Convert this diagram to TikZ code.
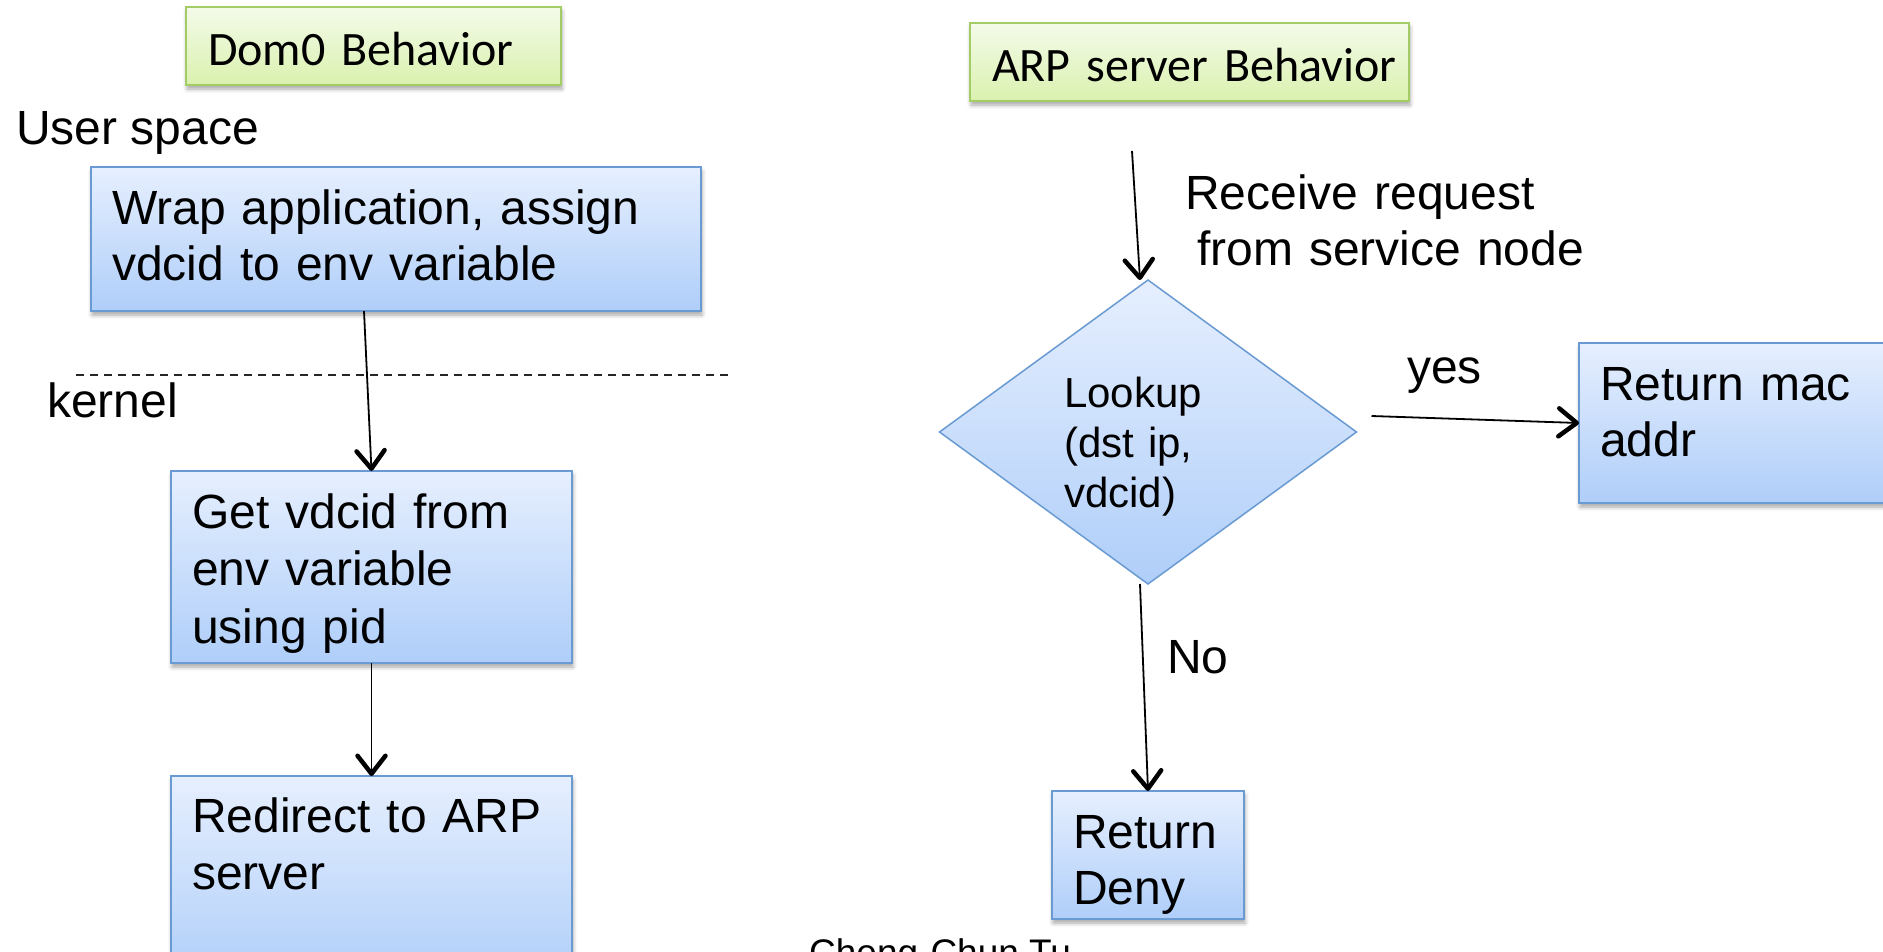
\documentclass[tikz,border=0pt]{standalone}
\usepackage{fontspec}
\setmainfont{Liberation Sans}
\newfontfamily\titlefont{Carlito}
\usetikzlibrary{shapes.geometric,arrows.meta,shadows.blur}

\definecolor{boxtop}{HTML}{E6EFFE}
\definecolor{boxbot}{HTML}{AFCEF9}
\definecolor{boxline}{HTML}{6A9AD2}
\definecolor{titletop}{HTML}{F4FBEA}
\definecolor{titlebot}{HTML}{DAF1AE}
\definecolor{titleline}{HTML}{A3CC66}

\newcommand\bigtext{\fontsize{48}{56}\selectfont}
\newcommand\looptext{\fontsize{48}{57.5}\selectfont}
\newcommand\midtext{\fontsize{42}{50}\selectfont}
\newcommand\titletext{\titlefont\bigtext\spaceskip=7pt\relax}

\tikzset{
  softshadow/.style={blur shadow={shadow xshift=1pt, shadow yshift=-4pt,
      shadow blur radius=4pt, shadow opacity=35}},
  procbox/.style={draw=boxline, line width=1.5pt, top color=boxtop,
      bottom color=boxbot, softshadow, anchor=north west,
      inner xsep=21pt, inner ysep=0pt, outer sep=0pt, align=left,
      font=\bigtext},
  titlebox/.style={draw=titleline, line width=1.5pt, top color=titletop,
      bottom color=titlebot, softshadow, anchor=north west,
      inner xsep=22pt, inner ysep=0pt, outer sep=0pt, align=left,
      font=\titletext},
  decision/.style={diamond, draw=boxline, line width=1.5pt,
      top color=boxtop, bottom color=boxbot, minimum width=417pt,
      minimum height=304pt, inner sep=0pt, outer sep=0pt},
  plain/.style={font=\bigtext, inner sep=0pt, anchor=base west},
  flow/.style={line width=1.8pt, black,
      -{Straight Barb[length=18pt,width=28pt,line width=4.5pt,round]}},
  divider/.style={line width=1.3pt, black!85, dash pattern=on 8pt off 6pt}
}

\begin{document}
\begin{tikzpicture}[x=1pt, y=-1pt]
\useasboundingbox (0,0) rectangle (1883,951);

% ---- Dom0 side ----
\node[titlebox, text width=331pt, text height=58pt, text depth=20pt]
  (domtitle) at (186,7) {\mbox{Dom0 Behavior}};
\node[plain] (userspace) at (16,144) {User space};
\node[procbox, text width=568pt, text height=57pt, text depth=87pt]
  (wrap) at (91,167) {Wrap application, assign\\vdcid to env variable};
\coordinate (dashL) at (76,375);
\coordinate (dashR) at (728,375);
\draw[divider] (dashL) -- (dashR);
\node[plain] (kernel) at (47,417) {kernel};
\node[procbox, font=\looptext, text width=359pt, text height=57pt,
  text depth=135pt]
  (get) at (171,471) {Get vdcid from\\env variable\\using pid};
\node[procbox, font=\looptext, text width=359pt, text height=56pt,
  text depth=150pt]
  (redirect) at (171,776) {Redirect to ARP\\server};

\draw[flow] ([xshift=-32pt]wrap.south) -- (get.north);
\draw[flow] (get.south) -- (redirect.north);

% ---- ARP server side ----
\node[titlebox, text width=395pt, text height=58pt, text depth=20pt]
  (arptitle) at (970,23) {\mbox{ARP server Behavior}};
\coordinate (reqin) at (1132,151);
\node[plain, text width=450pt, align=left] (receive) at (1185,209)
  {Receive request\\\hspace*{12pt}from service node};
\node[decision] (lookup) at (1148,432) {};
\node[plain, font=\midtext, text width=200pt, align=left] (lookuptext)
  at (1064,407) {Lookup\\(dst ip,\\vdcid)};
\node[plain] (yes) at (1407,383) {yes};
\node[procbox, text width=358pt, text height=57pt, text depth=103pt]
  (mac) at (1579,343) {Return mac\\addr};
\node[plain] (no) at (1167,673) {No};
\node[procbox, text width=150pt, text height=57pt, text depth=71pt]
  (deny) at (1052,791) {Return\\Deny};

\draw[flow] (reqin) -- ([xshift=-8pt]lookup.north);
\draw[flow] ([xshift=15pt,yshift=16pt]lookup.east) -- (mac.west);
\draw[flow] ([xshift=-8pt]lookup.south) -- (deny.north);

\node[plain, font=\fontsize{37}{44}\selectfont] (author) at (809,965)
  {Cheng-Chun Tu};
\end{tikzpicture}
\end{document}
